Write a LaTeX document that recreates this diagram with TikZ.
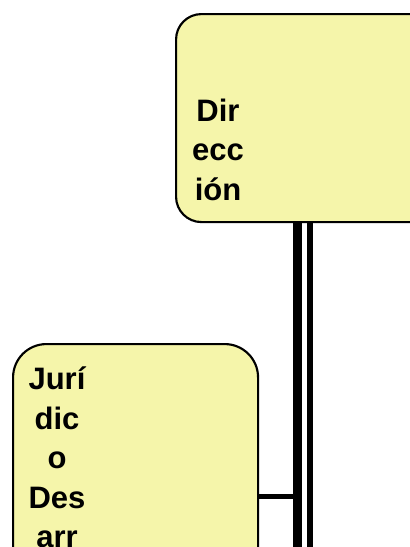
\documentclass[tikz,border=0pt]{standalone}
\usepackage{fontspec}
\setmainfont{Liberation Sans}
\definecolor{boxfill}{RGB}{245,245,170}
\begin{document}
\begin{tikzpicture}[x=0.75pt,y=-0.75pt,
  orgbox/.style={draw=black,line width=1.6pt,fill=boxfill,inner sep=0pt,anchor=north west},
  lbl/.style={anchor=base,inner sep=0pt,font=\fontsize{23.25}{28}\selectfont\bfseries},
  conn/.style={draw=black}]
\useasboundingbox (0,0) rectangle (410,547);
\clip (0,0) rectangle (410,547);
% boxes (sizes in pt: 1px = 0.75pt)
\node[orgbox,rounded corners=19pt,minimum width=195pt,minimum height=156pt] (dir) at (175,13) {};
\node[orgbox,rounded corners=25pt,minimum width=183.75pt,minimum height=195pt] (jur) at (12,343) {};
% connectors
\coordinate (bottomA) at (297.5,560);
\coordinate (bottomB) at (310,560);
\coordinate (junction) at (297.5,496);
\draw[conn,line width=6.75pt] (dir.south -| bottomA) -- (bottomA);
\draw[conn,line width=4.5pt] (dir.south -| bottomB) -- (bottomB);
\draw[conn,line width=3.75pt] (jur.east |- junction) -- (junction);
% labels
\node[lbl] (d1) at (218,121) {Dir};
\node[lbl] (d2) at (218,160.5) {ecc};
\node[lbl] (d3) at (218,200) {ión};
\node[lbl] (j1) at (57,389) {Jurí};
\node[lbl] (j2) at (57,429) {dic};
\node[lbl] (j3) at (57,468.5) {o};
\node[lbl] (j4) at (57,508) {Des};
\node[lbl] (j5) at (57,547.5) {arr};
\end{tikzpicture}
\end{document}
